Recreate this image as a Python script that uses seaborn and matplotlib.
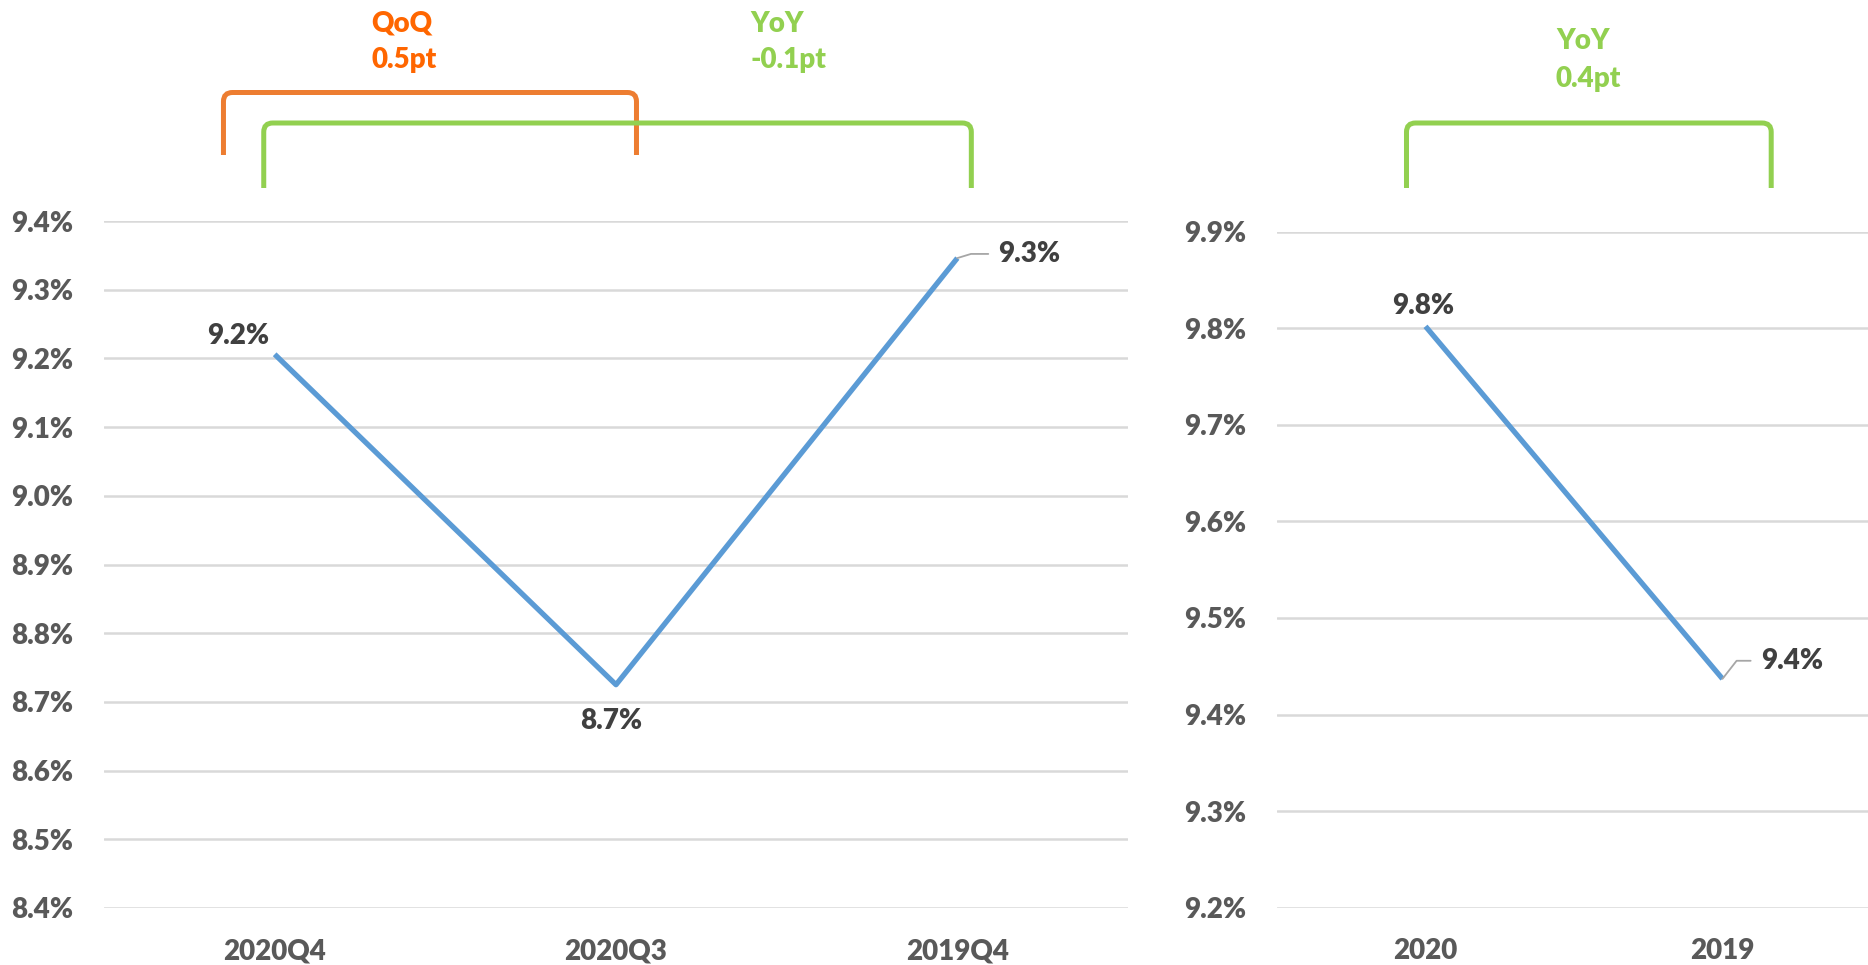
import matplotlib
matplotlib.use("Agg")
import numpy as np
import pandas as pd
import matplotlib.pyplot as plt
from matplotlib.path import Path
from matplotlib.patches import PathPatch
from matplotlib.transforms import IdentityTransform
import seaborn as sns

# --- data ---
quarters = ["2020Q4", "2020Q3", "2019Q4"]
quarter_rate = [9.206, 8.725, 9.346]
quarter_labels = ["9.2%", "8.7%", "9.3%"]
quarter_ticks = [8.4, 8.5, 8.6, 8.7, 8.8, 8.9, 9.0, 9.1, 9.2, 9.3, 9.4]

years = ["2020", "2019"]
year_rate = [9.802, 9.437]
year_labels = ["9.8%", "9.4%"]
year_ticks = [9.2, 9.3, 9.4, 9.5, 9.6, 9.7, 9.8, 9.9]

comp_names = ["QoQ", "YoY", "YoY"]
comp_values = ["0.5pt", "-0.1pt", "0.4pt"]

# --- style ---
sns.set_theme(style="white")
plt.rcParams["font.family"] = ["Lato", "DejaVu Sans"]

LINE = "#5B9BD5"
GRID = "#D9D9D9"
TICK = "#595959"
LABEL = "#404040"
ORANGE = "#ED7D31"
ORANGE_TXT = "#FF6600"
GREEN = "#92D050"
FS = 20
WEIGHT = "heavy"

W, H = 1868, 965
fig = plt.figure(figsize=(W / 100, H / 100), dpi=100)


def px_axes(x0, y0, x1, y1):
    # pixel box measured from the top-left corner
    return fig.add_axes([x0 / W, 1 - y1 / H, (x1 - x0) / W, (y1 - y0) / H])


def draw_panel(ax, cats, vals, ticks, labels, offsets, leaders):
    df = pd.DataFrame({"period": cats, "rate": vals})
    sns.lineplot(data=df, x="period", y="rate", ax=ax, color=LINE,
                 linewidth=3.8, sort=False, solid_capstyle="butt")
    ax.set_xlim(-0.5, len(cats) - 0.5)
    ax.set_ylim(ticks[0], ticks[-1])
    ax.set_yticks(ticks)
    ax.set_yticklabels([f"{t:.1f}%" for t in ticks])
    ax.grid(axis="y", color=GRID, linewidth=1.8)
    ax.grid(axis="x", visible=False)
    ax.set_axisbelow(True)
    for s in ax.spines.values():
        s.set_visible(False)
    ax.tick_params(axis="both", length=0, labelsize=FS, labelcolor=TICK)
    ax.tick_params(axis="y", pad=22)
    ax.tick_params(axis="x", pad=22)
    for t in ax.get_xticklabels() + ax.get_yticklabels():
        t.set_fontweight(WEIGHT)
    ax.set_xlabel("")
    ax.set_ylabel("")

    for i, (v, lab, off, lead) in enumerate(zip(vals, labels, offsets, leaders)):
        arrow = None
        if lead is not None:
            arrow = dict(arrowstyle="-", color="#A6A6A6", lw=1.3,
                         shrinkA=5, shrinkB=0, relpos=(0, 0.5),
                         connectionstyle=f"angle,angleA=0,angleB={lead},rad=0")
        ax.annotate(lab, xy=(i, v), xytext=off, textcoords="offset points",
                    ha="center", va="center", fontsize=FS,
                    fontweight=WEIGHT, color=LABEL, arrowprops=arrow)


def bracket(ax, x0, x1, y_top, y_bot, color, r=9):
    # x in category units of ax, y in pixels from the top of the figure
    px0 = ax.transData.transform((x0, 0))[0]
    px1 = ax.transData.transform((x1, 0))[0]
    yt, yb = H - y_top, H - y_bot
    verts = [(px0, yb), (px0, yt - r), (px0, yt), (px0 + r, yt),
             (px1 - r, yt), (px1, yt), (px1, yt - r), (px1, yb)]
    codes = [Path.MOVETO, Path.LINETO, Path.CURVE3, Path.CURVE3,
             Path.LINETO, Path.CURVE3, Path.CURVE3, Path.LINETO]
    fig.add_artist(PathPatch(Path(verts, codes), fill=False, edgecolor=color,
                             lw=3.6, capstyle="butt", transform=IdentityTransform()))


def note(x, y, s, color):
    fig.text(x / W, 1 - y / H, s, ha="left", va="baseline", fontsize=FS,
             fontweight=WEIGHT, color=color)


# --- panels ---
ax_q = px_axes(104, 221, 1128, 908)
ax_y = px_axes(1277, 231.7, 1871, 907.7)

draw_panel(ax_q, quarters, quarter_rate, quarter_ticks, quarter_labels,
           offsets=[(-26, 13), (-3.6, -26), (52, 3)],
           leaders=[None, None, 17])
draw_panel(ax_y, years, year_rate, year_ticks, year_labels,
           offsets=[(-2, 14.5), (50, 13)],
           leaders=[None, 52])

# --- comparison brackets and notes ---
bracket(ax_q, -0.150, 1.060, 92.5, 155, ORANGE)
bracket(ax_q, -0.032, 2.041, 123, 188, GREEN)
bracket(ax_y, -0.064, 1.164, 123, 188, GREEN)

note(371, 31.7, comp_names[0], ORANGE_TXT)
note(371, 68.3, comp_values[0], ORANGE_TXT)
note(750, 31.7, comp_names[1], GREEN)
note(750, 68.3, comp_values[1], GREEN)
note(1556, 49.3, comp_names[2], GREEN)
note(1556, 87.3, comp_values[2], GREEN)

fig.savefig("out.png", dpi=100)
